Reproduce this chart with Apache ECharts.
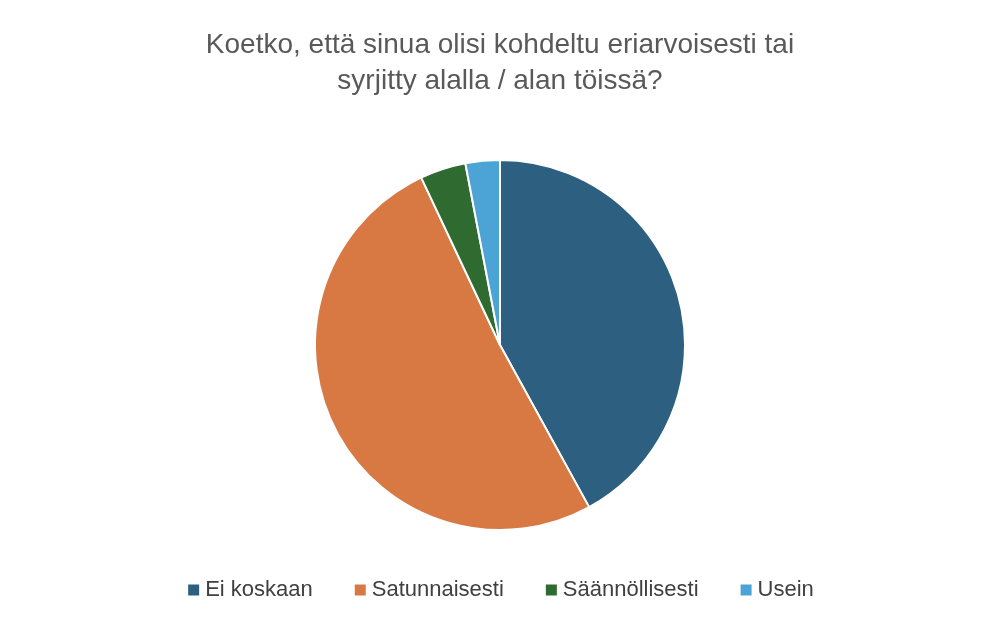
<!DOCTYPE html>
<html><head><meta charset="utf-8">
<script src="https://cdn.jsdelivr.net/npm/echarts@6/dist/echarts.min.js"></script>
<style>html,body{margin:0;background:#fff}#c{width:1000px;height:630px}</style>
</head><body><div id="c"></div>
<script>
const categories = ["Ei koskaan","Satunnaisesti","Säännöllisesti","Usein"];
const values = [42,51,4,3];
const colors = ["#2d5f80","#d87843","#2f6a30","#4ba3d6"];
const chart = echarts.init(document.getElementById('c'));
const base = categories.map((n,i)=>({name:n,value:values[i],itemStyle:{color:colors[i]}}));
const lab = categories.map((n,i)=>({name:n,value:values[i],
  itemStyle:{color:colors[i],opacity:0},
  label: values[i] < 10 ? {position:'outside',distance:6} : {position:'inside'}}));
chart.setOption({
  title:{text:"Koetko, että sinua olisi kohdeltu eriarvoisesti tai\nsyrjitty alalla / alan töissä?",left:'center',top:22,
    textStyle:{fontFamily:'Liberation Sans',fontSize:28,fontWeight:'normal',color:'#595959',lineHeight:36}},
  legend:{bottom:24,left:'center',itemWidth:13,itemHeight:13,itemGap:40,icon:'rect',
    textStyle:{fontFamily:'Liberation Sans',fontSize:22,color:'#404040'},data:categories},
  series:[
    {type:'pie',radius:[0,185],center:[500,345],startAngle:90,clockwise:true,silent:true,
     label:{show:false},labelLine:{show:false},
     itemStyle:{borderColor:'#fff',borderWidth:2},data:base},
    {type:'pie',radius:[82,185],center:[500,345],startAngle:90,clockwise:true,silent:true,
     labelLine:{show:false},
     label:{show:true,formatter:'{c}%',fontFamily:'Liberation Sans',fontSize:30,fontWeight:'bold',color:'#404040'},
     data:lab}
  ]
});
</script></body></html>
